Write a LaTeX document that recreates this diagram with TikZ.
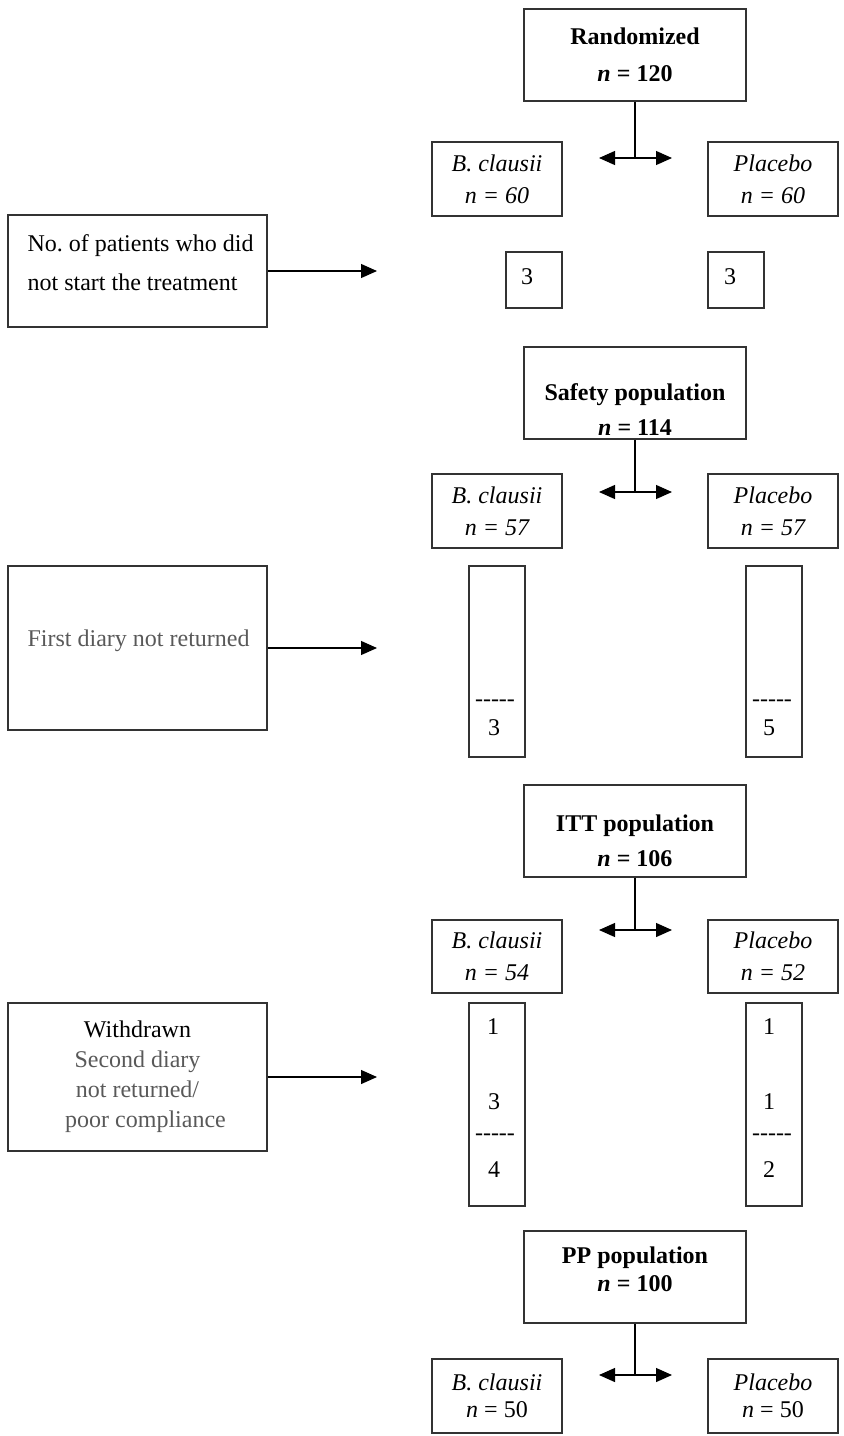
\documentclass[tikz,border=0pt]{standalone}
\usepackage{fontspec}
\setmainfont{Liberation Serif}
\usetikzlibrary{arrows.meta,positioning}

\begin{document}
\begin{tikzpicture}[x=0.5pt,y=-0.5pt,>={Triangle[length=8pt,width=7pt]},line width=0.6pt,
    font=\fontsize{12}{15}\selectfont,
    pop box/.style={draw=black!80,minimum width=111pt,minimum height=46pt,inner sep=0pt},
    pop text/.style={align=center,font=\bfseries\fontsize{12}{17.5}\selectfont},
    arm box/.style={draw=black!80,minimum width=65pt,minimum height=37pt,inner sep=0pt,
                    align=center,font=\itshape\fontsize{12}{16}\selectfont},
    count box/.style={draw=black!80,minimum width=28pt,inner sep=0pt},
    side box/.style={draw=black!80,minimum width=129.5pt,inner sep=0pt,align=center},
    num/.style={inner sep=0pt},
    grey text/.style={text=black!65}]
    \useasboundingbox (0,0) rectangle (843,1436);

    % Randomized
      \node[pop box,pop text,font=\bfseries\fontsize{12}{18.5}\selectfont] (rand) at (635,55) {Randomized\\\textit{n} = 120};
      \coordinate (randSplit) at (635,158);
      \coordinate (randL) at (599,158);
      \coordinate (randR) at (672,158);
      \node[arm box] (randB) at (497,179) {B. clausii\\n = 60};
      \node[arm box] (randP) at (773,179) {Placebo\\n = 60};
      \node[count box,minimum height=28pt] (randBx) at (534,280) {};
      \node[count box,minimum height=28pt] (randPx) at (736,280) {};
      \node[num] (randBxNum) at (527,277) {3};
      \node[num] (randPxNum) at (730,277) {3};

      \node[side box,minimum height=56pt] (noStart) at (137.5,271) {};
      \node[anchor=west,align=left,inner sep=0pt,font=\fontsize{12}{19.5}\selectfont] (noStartTxt) at (27,262.5) {No.\ of patients who did\\not start the treatment};
      \coordinate (noStartEnd) at (377,271);

    % Safety population
      \node[pop box] (safety) at (635,393) {};
      \node[pop text] (safetyTxt) at (635,409.5) {Safety population\\\textit{n} = 114};
      \coordinate (safetySplit) at (635,492);
      \coordinate (safetyL) at (599,492);
      \coordinate (safetyR) at (672,492);
      \node[arm box] (safetyB) at (497,511) {B. clausii\\n = 57};
      \node[arm box] (safetyP) at (773,511) {Placebo\\n = 57};

      \node[count box,minimum height=95.5pt] (firstB) at (497,661.5) {};
      \node[count box,minimum height=95.5pt] (firstP) at (774,661.5) {};
      \node[num] (firstBDash) at (495,703) {-{}-{}-{}-{}-};
      \node[num] (firstBNum) at (494,728) {3};
      \node[num] (firstPDash) at (772,703) {-{}-{}-{}-{}-};
      \node[num] (firstPNum) at (769,728) {5};

      \node[side box,minimum height=82pt] (firstDiary) at (137.5,648) {};
      \node[grey text,anchor=west,inner sep=0pt] (firstDiaryTxt) at (27,641) {First diary not returned};
      \coordinate (firstDiaryEnd) at (377,648);

    % ITT population
      \node[pop box] (itt) at (635,831) {};
      \node[pop text] (ittTxt) at (635,840.5) {ITT population\\\textit{n} = 106};
      \coordinate (ittSplit) at (635,930);
      \coordinate (ittL) at (599,930);
      \coordinate (ittR) at (672,930);
      \node[arm box,minimum height=36.5pt] (ittB) at (497,956.5) {B. clausii\\n = 54};
      \node[arm box,minimum height=36.5pt] (ittP) at (773,956.5) {Placebo\\n = 52};

      \node[count box,minimum height=101.5pt] (secondB) at (497,1104.5) {};
      \node[count box,minimum height=101.5pt] (secondP) at (774,1104.5) {};
      \node[num] (secondBOne) at (493,1027) {1};
      \node[num] (secondBTwo) at (494,1102) {3};
      \node[num] (secondBDash) at (495,1137) {-{}-{}-{}-{}-};
      \node[num] (secondBNum) at (494,1170) {4};
      \node[num] (secondPOne) at (769,1027) {1};
      \node[num] (secondPTwo) at (769,1102) {1};
      \node[num] (secondPDash) at (772,1137) {-{}-{}-{}-{}-};
      \node[num] (secondPNum) at (769,1170) {2};

      \node[side box,minimum height=74pt] (withdrawn) at (137.5,1077) {Withdrawn\\\textcolor{black!65}{Second diary}\\\textcolor{black!65}{not returned/}\\\textcolor{black!65}{\hspace{8pt}poor compliance}};
      \coordinate (withdrawnEnd) at (377,1077);

    % PP population
      \node[pop box] (pp) at (635,1277) {};
      \node[pop text,font=\bfseries\fontsize{12}{14}\selectfont] (ppTxt) at (635,1269) {PP population\\\textit{n} = 100};
      \coordinate (ppSplit) at (635,1375);
      \coordinate (ppL) at (599,1375);
      \coordinate (ppR) at (672,1375);
      \node[arm box,font=\fontsize{12}{13.5}\selectfont] (ppB) at (497,1396) {\textit{B. clausii}\\\textit{n} = 50};
      \node[arm box,font=\fontsize{12}{13.5}\selectfont] (ppP) at (773,1396) {\textit{Placebo}\\\textit{n} = 50};

    % Edges
      \draw (rand) -- (randSplit);
      \draw[->] (randSplit) -- (randL);
      \draw[->] (randSplit) -- (randR);
      \draw[->] (noStart) -- (noStartEnd);
      \draw (safety) -- (safetySplit);
      \draw[->] (safetySplit) -- (safetyL);
      \draw[->] (safetySplit) -- (safetyR);
      \draw[->] (firstDiary) -- (firstDiaryEnd);
      \draw (itt) -- (ittSplit);
      \draw[->] (ittSplit) -- (ittL);
      \draw[->] (ittSplit) -- (ittR);
      \draw[->] (withdrawn) -- (withdrawnEnd);
      \draw (pp) -- (ppSplit);
      \draw[->] (ppSplit) -- (ppL);
      \draw[->] (ppSplit) -- (ppR);
\end{tikzpicture}
\end{document}
